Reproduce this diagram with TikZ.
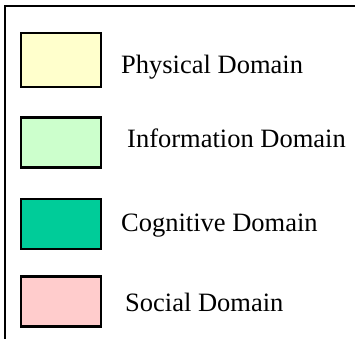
\documentclass[tikz,border=0pt]{standalone}
\usepackage{fontspec}
\setmainfont{Liberation Serif}
\usepackage{tikz}
\definecolor{physyellow}{HTML}{FFFFCC}
\definecolor{infogreen}{HTML}{CCFFCC}
\definecolor{cogngreen}{HTML}{00CC99}
\definecolor{socpink}{HTML}{FFCCCC}
\tikzstyle{legendbox} = [draw=black, line width=2.2bp, rectangle, minimum width=80bp, minimum height=50bp, inner sep=0pt]
\tikzstyle{legendlabel} = [anchor=base west, inner sep=0pt, font=\fontsize{26.5bp}{30bp}\selectfont]

\begin{document}
\begin{tikzpicture}[x=1bp, y=-1bp]
	\useasboundingbox (0,0) rectangle (355,339);
	% frame
	\coordinate (framebot) at (5,339);
	\coordinate (framecorner) at (5,6);
	\coordinate (frameright) at (355,6);
	\draw[line width=2.4bp] (framebot) -- (framecorner) -- (frameright);
	% legend entries
	\node[legendbox, fill=physyellow, minimum height=54bp](physbox) at (61,60) {};
	\node[legendbox, fill=infogreen](infobox) at (61,142.5) {};
	\node[legendbox, fill=cogngreen](cognbox) at (61,224) {};
	\node[legendbox, fill=socpink](socbox) at (61,301.5) {};
	\node[legendlabel](physlabel) at (121,73) {Physical Domain};
	\node[legendlabel](infolabel) at (127,147) {Information Domain};
	\node[legendlabel](cognlabel) at (121,231) {Cognitive Domain};
	\node[legendlabel](soclabel) at (125,311) {Social Domain};
\end{tikzpicture}
\end{document}
